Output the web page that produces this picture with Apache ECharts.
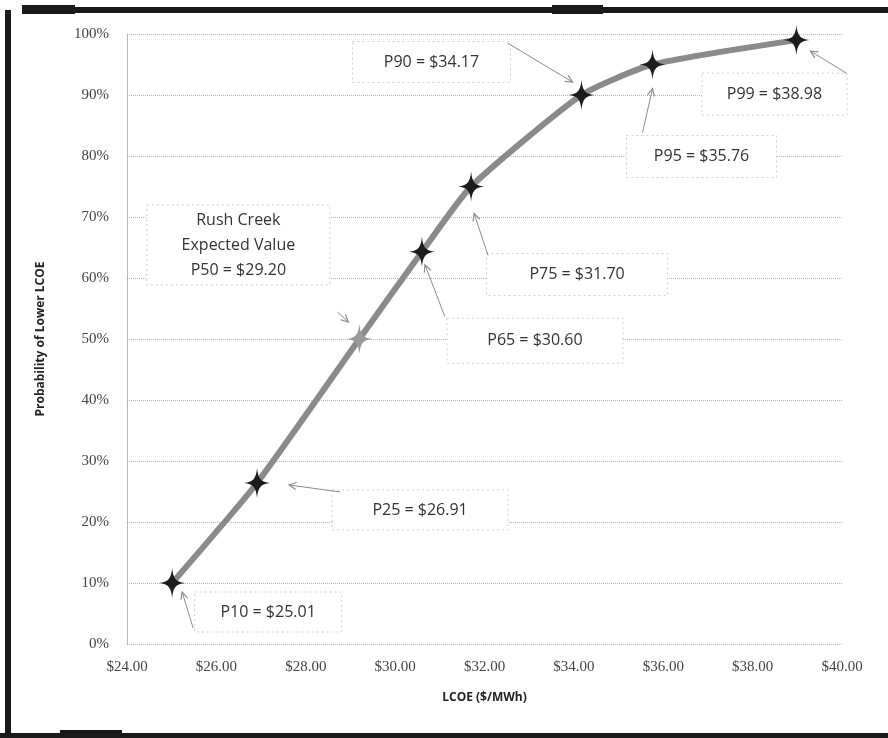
<!DOCTYPE html>
<html>
<head>
<meta charset="utf-8">
<script src="https://cdn.jsdelivr.net/npm/echarts@6/dist/echarts.min.js"></script>
<style>
  html, body { margin: 0; padding: 0; background: #fff; }
  #chart { width: 888px; height: 738px; }
</style>
</head>
<body>
<div id="chart"></div>
<script>
// Percentile points of the LCOE distribution
const pointLabels = ['P10', 'P25', 'P50', 'P65', 'P75', 'P90', 'P95', 'P99'];
const lcoeValues = [25.01, 26.91, 29.20, 30.60, 31.70, 34.17, 35.76, 38.98];
const probabilityPct = [10, 26.4, 50, 64.3, 75, 90, 95, 99];

// Axis ranges / ticks
const xMin = 24, xMax = 40, xStep = 2;
const yMin = 0, yMax = 100, yStep = 10;

// Callout placement, relative to each point (pixels): box centre, box size, arrow tail, arrow tip
const callouts = [
  { i: 0, box: [96, 29, 147, 40],    tail: [21, 45],   tip: [10, 9] },
  { i: 1, box: [163, 27, 176, 40],   tail: [83, 9],    tip: [32, 2] },
  { i: 2, box: [-121, -94, 183, 80], tail: [-22, -27], tip: [-11, -17],
    text: 'Rush Creek\nExpected Value\nP50 = $29.20' },
  { i: 3, box: [113, 89, 176, 45],   tail: [23, 65],   tip: [3, 13] },
  { i: 4, box: [106, 88, 181, 42],   tail: [17, 69],   tip: [3, 27] },
  { i: 5, box: [-150, -33, 158, 41], tail: [-74, -52], tip: [-9, -13] },
  { i: 6, box: [49, 92, 150, 42],    tail: [-10, 68],  tip: [0, 24] },
  { i: 7, box: [-22, 54, 145, 42],   tail: [50, 33],   tip: [14, 11] }
];

const starPath = 'path://M0,-15 C1,-4 4,-1 13,0 C4,1 1,4 0,15 C-1,4 -4,1 -13,0 C-4,-1 -1,-4 0,-15 Z';

const chart = echarts.init(document.getElementById('chart'));

const seriesData = lcoeValues.map((x, k) => {
  const item = { value: [x, probabilityPct[k]] };
  if (pointLabels[k] === 'P50') {
    item.itemStyle = { color: '#9a9a9a' };
  }
  return item;
});

const tickFont = { fontFamily: 'Liberation Serif', fontSize: 15, color: '#444' };

chart.setOption({
  animation: false,
  backgroundColor: '#fff',
  grid: { left: 127, right: 46, top: 34, bottom: 94 },
  xAxis: {
    type: 'value', min: xMin, max: xMax, interval: xStep,
    name: 'LCOE ($/MWh)', nameLocation: 'middle', nameGap: 48,
    nameTextStyle: { fontFamily: 'Open Sans', fontSize: 12, fontWeight: 'bold', color: '#222' },
    axisLine: { show: false },
    axisTick: { show: false },
    splitLine: { show: false },
    axisLabel: Object.assign({ margin: 16, formatter: v => '$' + v.toFixed(2) }, tickFont)
  },
  yAxis: {
    type: 'value', min: yMin, max: yMax, interval: yStep,
    name: 'Probability of Lower LCOE', nameLocation: 'middle', nameGap: 80, nameRotate: 90,
    nameTextStyle: { fontFamily: 'Open Sans', fontSize: 12, fontWeight: 'bold', color: '#222' },
    axisLine: { show: true, lineStyle: { color: '#aaa', type: 'dotted', width: 1 } },
    axisTick: { show: false },
    splitLine: { show: true, lineStyle: { color: '#b5b5b5', type: 'dotted', width: 1 } },
    axisLabel: Object.assign({ margin: 18, formatter: '{value}%' }, tickFont)
  },
  series: [{
    type: 'line',
    data: seriesData,
    smooth: 0.18,
    lineStyle: { color: '#8a8a8a', width: 6 },
    symbol: starPath,
    symbolSize: [26, 30],
    itemStyle: { color: '#1c1c1c' },
    z: 3
  }]
});

// Callout boxes and arrows, anchored to the plotted points
function arrowHead(tail, tip) {
  const ang = Math.atan2(tip[1] - tail[1], tip[0] - tail[0]);
  const len = 8, spread = 0.45;
  return [
    [tip[0] - len * Math.cos(ang - spread), tip[1] - len * Math.sin(ang - spread)],
    tip,
    [tip[0] - len * Math.cos(ang + spread), tip[1] - len * Math.sin(ang + spread)]
  ];
}

const graphics = [];
callouts.forEach(c => {
  const p = chart.convertToPixel({ gridIndex: 0 }, [lcoeValues[c.i], probabilityPct[c.i]]);
  const [dx, dy, w, h] = c.box;
  const cx = p[0] + dx, cy = p[1] + dy;
  const label = c.text || (pointLabels[c.i] + ' = $' + lcoeValues[c.i].toFixed(2));
  graphics.push({
    type: 'rect', z: 10,
    shape: { x: cx - w / 2, y: cy - h / 2, width: w, height: h },
    style: { fill: '#fff', stroke: '#cfcfcf', lineWidth: 1, lineDash: [2, 3] }
  });
  graphics.push({
    type: 'text', z: 11, x: cx, y: cy,
    style: {
      text: label, fontFamily: 'Open Sans', fontSize: 16, fill: '#333',
      align: 'center', verticalAlign: 'middle', lineHeight: 25
    }
  });
  const tail = [p[0] + c.tail[0], p[1] + c.tail[1]];
  const tip = [p[0] + c.tip[0], p[1] + c.tip[1]];
  graphics.push({
    type: 'line', z: 12,
    shape: { x1: tail[0], y1: tail[1], x2: tip[0], y2: tip[1] },
    style: { stroke: '#8c8c8c', lineWidth: 1 }
  });
  graphics.push({
    type: 'polyline', z: 12,
    shape: { points: arrowHead(tail, tip) },
    style: { stroke: '#8c8c8c', lineWidth: 1.2, fill: null }
  });
});

// Page frame
const frame = [
  [22, 5, 53, 9], [75, 7, 477, 6], [552, 5, 51, 9], [603, 7, 285, 6],
  [5, 10, 6, 728], [0, 733, 888, 5], [60, 730, 62, 8]
];
frame.forEach(r => graphics.push({
  type: 'rect', z: 20,
  shape: { x: r[0], y: r[1], width: r[2], height: r[3] },
  style: { fill: '#1a1a1a' }
}));

chart.setOption({ graphic: graphics });
</script>
</body>
</html>
